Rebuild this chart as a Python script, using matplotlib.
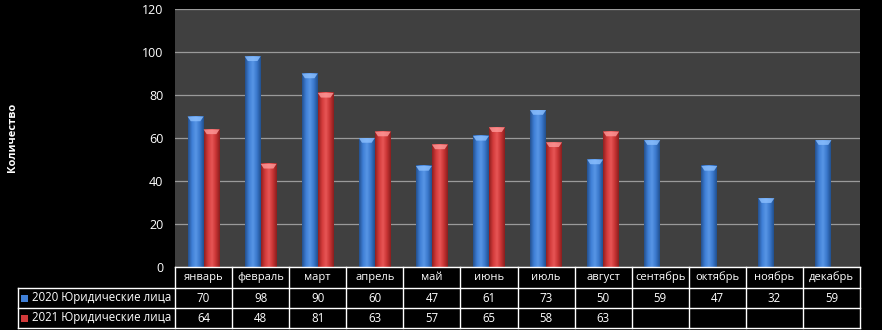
import numpy as np
import matplotlib
matplotlib.use("Agg")
import matplotlib.pyplot as plt
from matplotlib.colors import LinearSegmentedColormap
from matplotlib.patches import Rectangle, Polygon

months = ["январь", "февраль", "март", "апрель", "май", "июнь", "июль",
          "август", "сентябрь", "октябрь", "ноябрь", "декабрь"]
series_names = ["2020 Юридические лица", "2021 Юридические лица"]
values_2020 = [70, 98, 90, 60, 47, 61, 73, 50, 59, 47, 32, 59]
values_2021 = [64, 48, 81, 63, 57, 65, 58, 63]
yticks = [0, 20, 40, 60, 80, 100, 120]

plt.rcParams['font.family'] = ['Open Sans', 'DejaVu Sans']
fig = plt.figure(figsize=(8.82, 3.3), dpi=100, facecolor='black')
W, H = 882, 330
ax = fig.add_axes([175 / W, 1 - 267 / H, (860 - 175) / W, (267 - 9) / H])
ax.set_facecolor('#404040')

cmap_blue = LinearSegmentedColormap.from_list('b', ['#24508f', '#3f7fd6', '#5896e6', '#3a78cc', '#21508f'])
cmap_red = LinearSegmentedColormap.from_list('r', ['#8f2020', '#d23a3a', '#e85656', '#c83434', '#8a1e1e'])
grad = np.linspace(0, 1, 64).reshape(1, -1)

bw = 0.28
series = [(values_2020, -bw / 2, cmap_blue, '#8cc0ff'), (values_2021, bw / 2, cmap_red, '#ff9a9a')]
for vals, off, cm, capc in series:
    for i, v in enumerate(vals):
        x0 = i + off - bw / 2
        x1 = i + off + bw / 2
        ax.imshow(grad, cmap=cm, extent=(x0, x1, 0, v), aspect='auto', zorder=3, interpolation='bilinear')
        cap = Polygon([(x0, v), (x1, v), (x1 - bw * 0.2, v - 2.2), (x0 + bw * 0.2, v - 2.2)],
                      closed=True, facecolor=capc, edgecolor='none', alpha=0.8, zorder=4)
        ax.add_patch(cap)

ax.set_xlim(-0.5, len(months) - 0.5)
ax.set_ylim(0, 120)
ax.set_yticks(yticks)
ax.yaxis.grid(True, color='#9a9a9a', linewidth=0.9)
ax.set_axisbelow(True)
ax.set_xticks([])
for s in ax.spines.values():
    s.set_visible(False)
ax.tick_params(axis='y', colors='white', labelsize=9, length=0, pad=8.5)
for lbl in ax.get_yticklabels():
    lbl.set_color('white')

fig.text(13 / W, 1 - 137 / H, "Количество", rotation=90, color='white', fontsize=8,
         fontweight='bold', ha='center', va='center')

# data table (pixel layout)
col_w = (860 - 175) / len(months)
row_y = [267, 288, 308, 328]
lw = 1.0
def fx(px):
    return px / W
def fy(py):
    return 1 - py / H

fig.add_artist(plt.Line2D([fx(175), fx(860)], [fy(267), fy(267)], color='white', lw=lw))
for y in row_y[1:]:
    fig.add_artist(plt.Line2D([fx(18), fx(860)], [fy(y), fy(y)], color='white', lw=lw))
fig.add_artist(plt.Line2D([fx(18), fx(18)], [fy(288), fy(328)], color='white', lw=lw))
for k in range(len(months) + 1):
    x = 175 + k * col_w
    fig.add_artist(plt.Line2D([fx(x), fx(x)], [fy(267), fy(328)], color='white', lw=lw))

for k, m in enumerate(months):
    cx = 175 + (k + 0.5) * col_w
    fig.text(fx(cx), fy(277.5), m, color='white', fontsize=8, ha='center', va='center')
    fig.text(fx(cx), fy(298), str(values_2020[k]), color='white', fontsize=8.3, ha='center', va='center')
    if k < len(values_2021):
        fig.text(fx(cx), fy(318), str(values_2021[k]), color='white', fontsize=8.3, ha='center', va='center')

key_colors = ['#3f7fd6', '#d23a3a']
for r, (name, kc) in enumerate(zip(series_names, key_colors)):
    cy = 298 + r * 20
    fig.add_artist(Rectangle((fx(21), fy(cy + 3.5)), 7 / W, 7 / H, facecolor=kc, edgecolor='none'))
    fig.text(fx(32), fy(cy), name, color='white', fontsize=8.3, ha='left', va='center')

fig.savefig('out.png', dpi=100, facecolor='black')
